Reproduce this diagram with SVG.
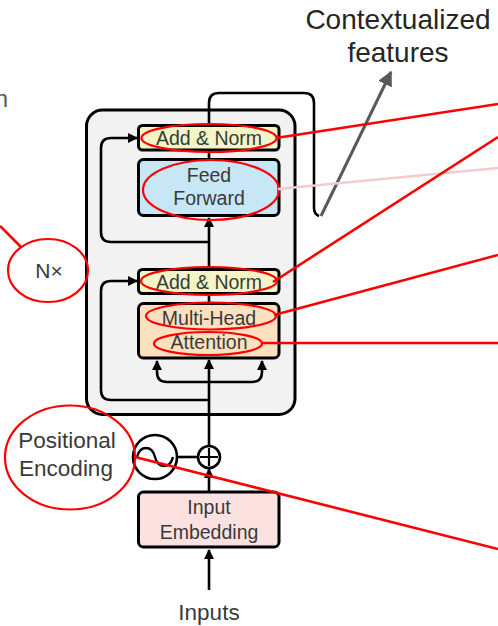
<svg xmlns="http://www.w3.org/2000/svg" width="498" height="626" viewBox="0 0 498 626">
<defs>
<style>
.box{stroke:#000;stroke-width:3}
.wire{fill:none;stroke:#000;stroke-width:2.6;stroke-linejoin:round}
.t{font-family:"Liberation Sans",Arial,sans-serif;fill:#3a3a3a;text-anchor:middle}
.red{fill:none;stroke:#ff0000;stroke-width:2.2}
.redl{stroke:#ff0000;stroke-width:2.6}
</style>
<marker id="ah" viewBox="0 0 10 10" refX="9" refY="5" markerWidth="4" markerHeight="4" orient="auto" markerUnits="strokeWidth">
<path d="M0,0 L10,5 L0,10 z" fill="#000"/>
</marker>
<marker id="gh" viewBox="0 0 10 10" refX="9" refY="5" markerWidth="5" markerHeight="5" orient="auto" markerUnits="strokeWidth">
<path d="M0,0 L10,5 L0,10 z" fill="#595959"/>
</marker>
</defs>
<rect width="498" height="626" fill="#fff"/>

<g id="encoder-frame">
<rect x="86.5" y="110" width="208.5" height="304.5" rx="16" fill="#f2f2f2" stroke="#000" stroke-width="3"/>
</g>

<g id="connectors">
<path class="wire" d="M209,590 V550" marker-end="url(#ah)"/>
<path class="wire" d="M209,492 V469" marker-end="url(#ah)"/>
<path class="wire" d="M209,446 V360" marker-end="url(#ah)"/>
<path class="wire" d="M209,400 H111 Q101,400 101,390 V291 Q101,281 111,281 H137" marker-end="url(#ah)"/>
<path class="wire" d="M209,382 H167 Q157,382 157,372 V361" marker-end="url(#ah)"/>
<path class="wire" d="M209,382 H252 Q262,382 262,372 V361" marker-end="url(#ah)"/>
<path class="wire" d="M209,303 V293"/>
<path class="wire" d="M209,269 V218" marker-end="url(#ah)"/>
<path class="wire" d="M209,242 H111 Q101,242 101,232 V148 Q101,138 111,138 H137" marker-end="url(#ah)"/>
<path class="wire" d="M209,159 V150"/>
<path class="wire" d="M209,125 V103 Q209,93 219,93 H304 Q314,93 314,103 V208 Q314,214 319,216"/>
<path d="M321,216 L391,72" fill="none" stroke="#595959" stroke-width="3" marker-end="url(#gh)"/>
<line x1="177" y1="457" x2="198" y2="457" stroke="#000" stroke-width="2.6"/>
</g>

<g id="add-norm-2">
<rect class="box" x="138.5" y="125.5" width="140.5" height="24.5" rx="4" fill="#f3f5c6"/>
<text class="t" x="209" y="145" font-size="19.5">Add &amp; Norm</text>
</g>
<g id="feed-forward">
<rect class="box" x="138.5" y="159.5" width="140.5" height="56" rx="5" fill="#c7e6f6"/>
<text class="t" x="209" y="182" font-size="19.5">Feed</text>
<text class="t" x="209" y="205" font-size="19.5">Forward</text>
</g>
<g id="add-norm-1">
<rect class="box" x="138.5" y="269.5" width="140.5" height="24" rx="4" fill="#f3f5c6"/>
<text class="t" x="209" y="288.5" font-size="19.5">Add &amp; Norm</text>
</g>
<g id="multi-head-attention">
<rect class="box" x="138.5" y="303.5" width="140.5" height="54.5" rx="5" fill="#fde0c0"/>
<text class="t" x="209" y="325" font-size="19.5">Multi-Head</text>
<text class="t" x="209" y="349" font-size="19.5">Attention</text>
</g>
<g id="positional-encoding">
<circle cx="155" cy="457" r="22" fill="#fff" stroke="#000" stroke-width="2.6"/>
<path d="M137,457 C140,445 152,445 155,457 C158,469 170,469 173,457" fill="none" stroke="#000" stroke-width="2.4"/>
<text class="t" x="67" y="448" font-size="22.5">Positional</text>
<text class="t" x="66" y="476" font-size="22.5">Encoding</text>
</g>
<g id="add">
<circle cx="209" cy="457" r="11" fill="#fff" stroke="#000" stroke-width="2.6"/>
<path d="M209,448 V466 M200,457 H218" stroke="#000" stroke-width="2.2"/>
</g>
<g id="input-embedding">
<rect class="box" x="138.5" y="492" width="140.5" height="55" rx="5" fill="#fce1e1"/>
<text class="t" x="209" y="514" font-size="19.5">Input</text>
<text class="t" x="209" y="539" font-size="19.5">Embedding</text>
</g>
<g id="inputs">
<text class="t" x="209" y="620" font-size="22.5">Inputs</text>
</g>
<g id="nx">
<text class="t" x="49" y="278" font-size="21">N×</text>
</g>
<g id="output-label">
<text class="t" x="398" y="29" font-size="28" style="fill:#262626">Contextualized</text>
<text class="t" x="398" y="62" font-size="28" style="fill:#262626">features</text>
</g>
<g id="cut-text">
<text x="8" y="107" font-family="'Liberation Sans',Arial,sans-serif" font-size="24" fill="#595959" text-anchor="end">n</text>
</g>

<g id="annotations">
<ellipse class="red" cx="209" cy="138" rx="67.5" ry="14"/>
<ellipse class="red" cx="211" cy="190" rx="68" ry="30"/>
<ellipse class="red" cx="209" cy="281" rx="68" ry="14"/>
<ellipse class="red" cx="211" cy="316" rx="65" ry="13.5"/>
<ellipse class="red" cx="208" cy="343.5" rx="54" ry="11.5"/>
<ellipse class="red" cx="70" cy="457.5" rx="65" ry="52"/>
<ellipse class="red" cx="48" cy="270.5" rx="40" ry="31.5"/>
<line class="redl" x1="276" y1="138" x2="498" y2="104"/>
<line x1="278" y1="189" x2="498" y2="168" stroke="#f2cccc" stroke-width="2.6"/>
<line class="redl" x1="273" y1="282" x2="498" y2="137"/>
<line class="redl" x1="274" y1="315" x2="498" y2="255"/>
<line class="redl" x1="262" y1="343" x2="498" y2="343"/>
<line class="redl" x1="135" y1="457" x2="498" y2="549"/>
<line class="redl" x1="0" y1="226" x2="21" y2="247"/>
</g>
</svg>
